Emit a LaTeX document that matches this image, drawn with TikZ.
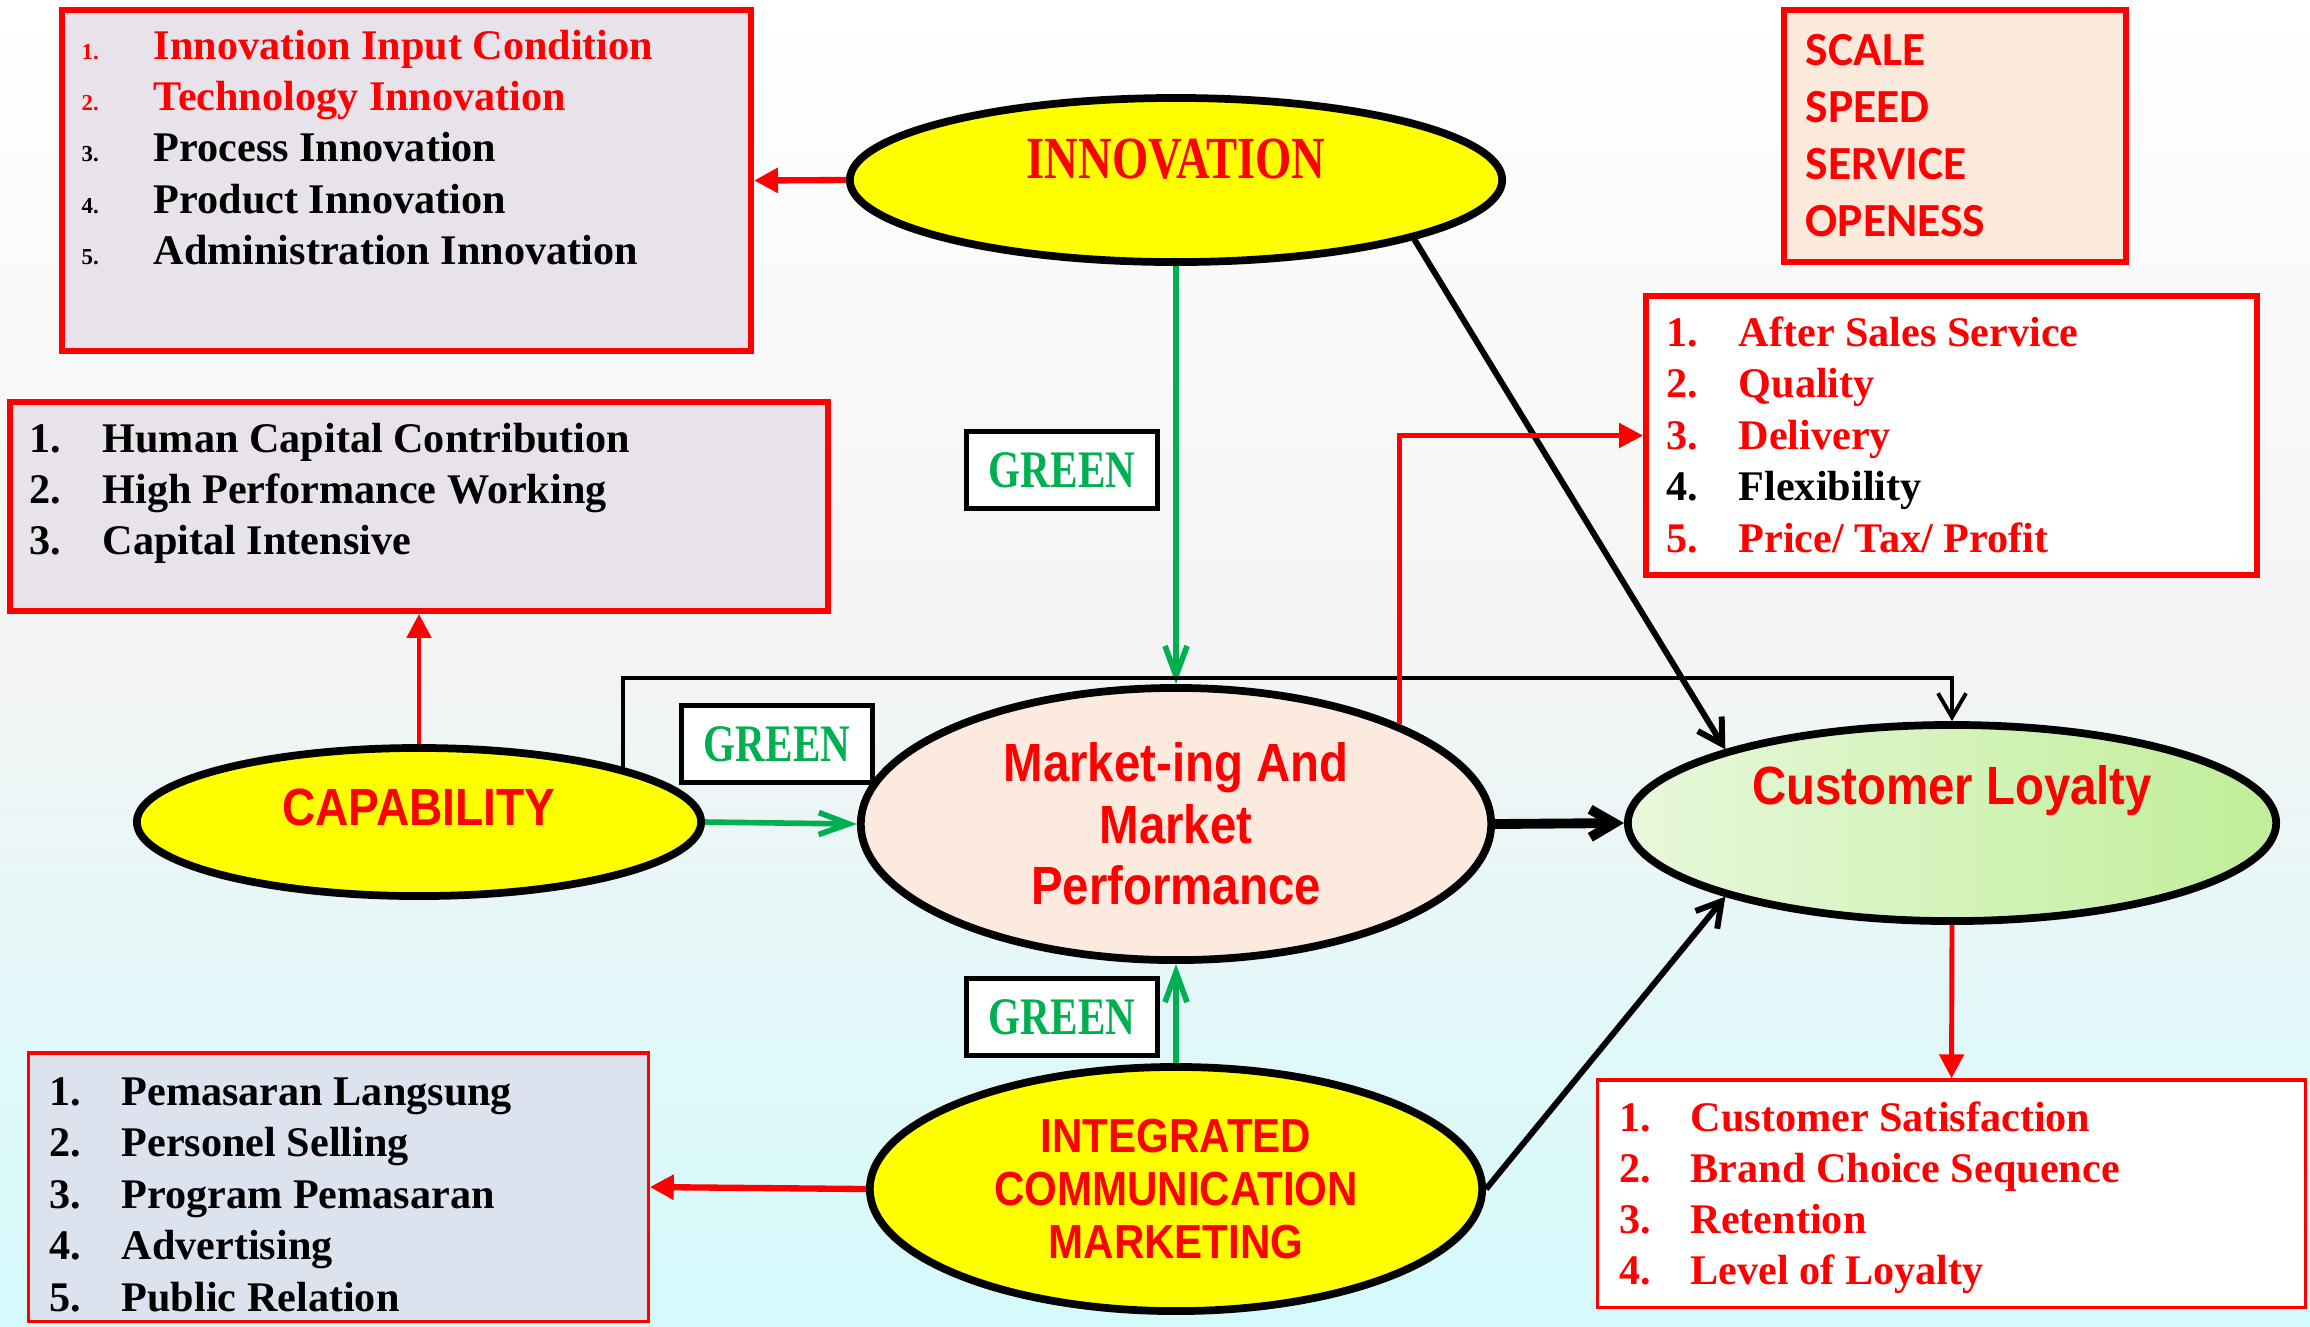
\documentclass[tikz,border=0pt]{standalone}
\usepackage{fontspec}
\setmainfont{Liberation Serif}
\newfontfamily\tallsans[FakeStretch=0.88]{Liberation Sans}
\newfontfamily\calib{Carlito}
\newfontfamily\tallserif[FakeStretch=0.78]{Liberation Serif}
\usetikzlibrary{shapes,arrows.meta}

\definecolor{lred}{HTML}{FF0000}
\definecolor{lgreen}{HTML}{00B050}
\definecolor{lyellow}{HTML}{FFFF00}
\definecolor{lavbox}{HTML}{E8E3EA}
\definecolor{peachbox}{HTML}{FBEADC}
\definecolor{bluebox}{HTML}{DCE3EF}
\definecolor{mktfill}{HTML}{FBEADD}
\definecolor{loyleft}{HTML}{E8F8DC}
\definecolor{loyright}{HTML}{C0EE98}
\definecolor{bgmid}{HTML}{F4F4F4}
\definecolor{bgbottom}{HTML}{D4FAFC}

\begin{document}
\begin{tikzpicture}[x=0.01cm, y=-0.01cm,
    oval/.style={ellipse, draw=black, line width=2.2pt, inner sep=0pt},
    ovaltext/.style={text=lred, font=\tallsans\bfseries\fontsize{15.3}{17.5}\selectfont, align=center, inner sep=0pt},
    listbox/.style={rectangle, draw=lred, line width=1.6pt, inner sep=0pt},
    itemtxt/.style={anchor=base west, inner sep=0pt, font=\bfseries\fontsize{12}{14}\selectfont},
    greenbox/.style={rectangle, draw=black, line width=1.5pt, fill=white, text=lgreen,
        font=\tallserif\bfseries\fontsize{15}{16}\selectfont, minimum width=19.1mm, minimum height=7.7mm},
    redarrow/.style={draw=lred, line width=1.4pt, -{Triangle[length=2.4mm, width=2.4mm]}},
    greenarrow/.style={draw=lgreen, line width=1.6pt, -{Straight Barb[length=3mm, width=2.2mm]}},
    blackarrow/.style={draw=black, line width=1.7pt, -{Straight Barb[length=2.4mm, width=2.8mm]}}
]
    % background
    \shade[top color=white, bottom color=bgmid] (0,0) rectangle (2310,650);
    \shade[top color=bgmid, bottom color=bgbottom] (0,650) rectangle (2310,1326);
    \useasboundingbox (0,0) rectangle (2310,1326);

    % list boxes
    \node[listbox, fill=lavbox, minimum width=68.9mm, minimum height=34.1mm] (innolist) at (406.5,180.5) {};
    \node[listbox, fill=peachbox, minimum width=34.2mm, minimum height=25.2mm] (scalebox) at (1955,136) {};
    \node[listbox, fill=white, minimum width=61.1mm, minimum height=27.9mm] (servlist) at (1951.5,435.5) {};
    \node[listbox, fill=lavbox, minimum width=81.8mm, minimum height=20.9mm] (caplist) at (419,506.5) {};
    \node[listbox, fill=bluebox, line width=0.9pt, minimum width=61.9mm, minimum height=26.8mm] (mktlist) at (338.5,1187) {};
    \node[listbox, fill=white, line width=0.9pt, minimum width=70.7mm, minimum height=22.7mm] (loylist) at (1951.5,1193.5) {};

    \foreach \t/\c [count=\i] in {Innovation Input Condition/lred, Technology Innovation/lred, Process Innovation/black, Product Innovation/black, Administration Innovation/black} {
        \node[itemtxt, text=\c, font=\bfseries\fontsize{6.5}{7}\selectfont] (innonum\i) at (81, 7.8+51.3*\i) {\i.};
        \node[itemtxt, text=\c] (innoitem\i) at (153, 7.8+51.3*\i) {\t};
    }
    \foreach \t [count=\i] in {SCALE, SPEED, SERVICE, OPENESS} {
        \node[itemtxt, text=lred, font=\calib\bfseries\fontsize{13.5}{15}\selectfont] (scale\i) at (1805, 8+57*\i) {\t};
    }
    \foreach \t/\c [count=\i] in {After Sales Service/lred, Quality/lred, Delivery/lred, Flexibility/black, {Price/ Tax/ Profit}/lred} {
        \node[itemtxt, text=\c] (servnum\i) at (1666, 294.5+51.5*\i) {\i.};
        \node[itemtxt, text=\c] (servitem\i) at (1738, 294.5+51.5*\i) {\t};
    }
    \foreach \t [count=\i] in {Human Capital Contribution, High Performance Working, Capital Intensive} {
        \node[itemtxt] (capnum\i) at (29, 401+51.3*\i) {\i.};
        \node[itemtxt] (capitem\i) at (102, 401+51.3*\i) {\t};
    }
    \foreach \t [count=\i] in {Pemasaran Langsung, Personel Selling, Program Pemasaran, Advertising, Public Relation} {
        \node[itemtxt] (mktnum\i) at (49, 1053.5+51.5*\i) {\i.};
        \node[itemtxt] (mktitem\i) at (121, 1053.5+51.5*\i) {\t};
    }
    \foreach \t [count=\i] in {Customer Satisfaction, Brand Choice Sequence, Retention, Level of Loyalty} {
        \node[itemtxt, text=lred] (loynum\i) at (1619, 1079.7+51.3*\i) {\i.};
        \node[itemtxt, text=lred] (loyitem\i) at (1690, 1079.7+51.3*\i) {\t};
    }

    % ovals
    \node[oval, fill=lyellow, minimum width=65.2mm, minimum height=16.4mm] (innov) at (1176,180) {};
    \node[oval, fill=lyellow, minimum width=56.4mm, minimum height=14.8mm] (cap) at (419,822) {};
    \node[oval, fill=mktfill, minimum width=63mm, minimum height=27.2mm] (mkt) at (1176,824) {};
    \node[oval, left color=loyleft, right color=loyright, minimum width=64.8mm, minimum height=19.6mm] (loy) at (1952,823) {};
    \node[oval, fill=lyellow, minimum width=61.2mm, minimum height=24.4mm] (icm) at (1176,1189) {};

    \node[ovaltext, font=\tallserif\bfseries\fontsize{17}{19}\selectfont] (innovtxt) at ([yshift=2.1mm]innov.center) {INNOVATION};
    \node[ovaltext, font=\tallsans\bfseries\fontsize{14.9}{16}\selectfont] (captxt) at ([yshift=1.5mm]cap.center) {CAPABILITY};
    \node[ovaltext] (mkttxt) at (mkt.center) {Market-ing And\\Market\\Performance};
    \node[ovaltext] (loytxt) at ([yshift=3.2mm]loy.center) {Customer Loyalty};
    \node[ovaltext, font=\tallsans\bfseries\fontsize{13.6}{15.2}\selectfont] (icmtxt) at (icm.center) {INTEGRATED\\COMMUNICATION\\MARKETING};

    \node[greenbox] (green1) at (1062,470) {GREEN};
    \node[greenbox] (green2) at (777,744) {GREEN};
    \node[greenbox] (green3) at (1062,1017) {GREEN};

    % connectors
    \coordinate (topline) at (0,678);
    \draw[redarrow, line width=1.8pt] (innov.west) -- (innolist.east);
    \draw[greenarrow] (innov.south) -- (mkt.north);
    \draw[blackarrow] (innov.-14) -- (loy.162);
    \draw[blackarrow, line width=1.1pt] (cap.15) -- (cap.15 |- topline) -| (loy.north);
    \draw[redarrow] (mkt.24) |- (servlist.west);
    \draw[redarrow] (cap.north) -- (caplist.south);
    \draw[greenarrow] (cap.east) -- (mkt.west);
    \draw[blackarrow, line width=2.8pt] (mkt.east) -- (loy.west);
    \draw[greenarrow] (icm.north) -- (mkt.south);
    \draw[redarrow, line width=1.8pt] (icm.west) -- (mktlist.east);
    \draw[blackarrow] (icm.east) -- (loy.198);
    \draw[redarrow] (loy.south) -- (loylist.north);
\end{tikzpicture}
\end{document}
